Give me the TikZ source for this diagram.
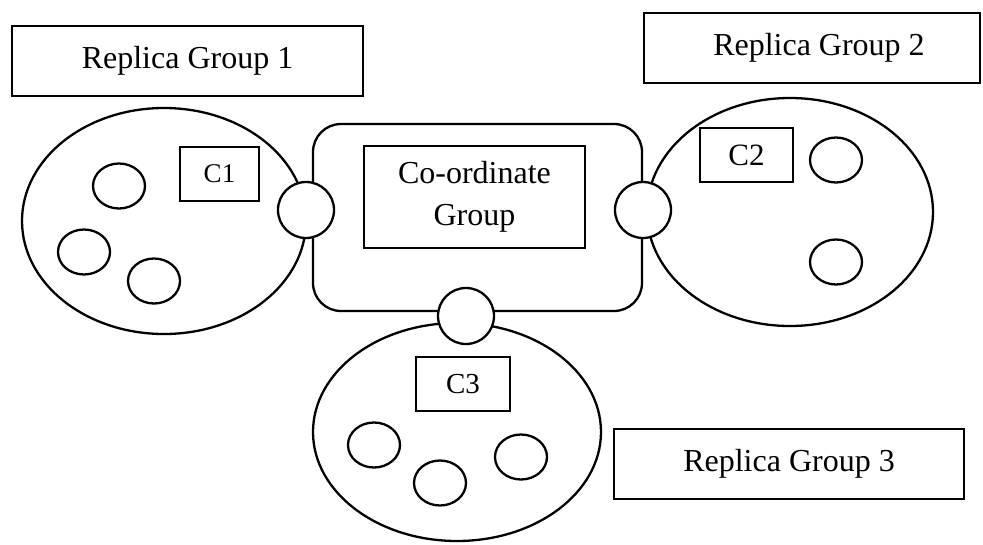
\documentclass[tikz,border=0pt]{standalone}
\usepackage{fontspec}
\setmainfont{Liberation Serif}
\usetikzlibrary{shapes.geometric}
\begin{document}
\begin{tikzpicture}[x=1pt,y=-1pt,
  line width=2.3pt,
  titlebox/.style={draw, rectangle, inner sep=0pt, font=\fontsize{32}{38}\selectfont},
  group/.style={draw, ellipse, inner sep=0pt},
  member/.style={draw, ellipse, inner sep=0pt, minimum width=52pt, minimum height=45pt},
  port/.style={draw, circle, fill=white, inner sep=0pt, minimum size=56pt},
  cbox/.style={draw, rectangle, inner sep=0pt, minimum height=54pt},
]
\useasboundingbox (0,0) rectangle (983,544);

% replica group titles
\node[titlebox, minimum width=351pt, minimum height=70pt] (rg1) at (187.5,61) {Replica Group 1};
\node[titlebox, minimum width=336pt, minimum height=70pt] (rg2) at (812,48) {\hspace*{14pt}Replica Group 2};
\node[titlebox, minimum width=350pt, minimum height=70pt] (rg3) at (789,464) {Replica Group 3};

% replica groups
\node[group, minimum width=284pt, minimum height=226pt] (g1) at (164,221) {};
\node[group, minimum width=286pt, minimum height=228pt] (g2) at (790,212) {};
\node[group, minimum width=288pt, minimum height=218pt] (g3) at (457,432) {};

% coordinating group
\node[draw, rectangle, rounded corners=28pt, minimum width=329pt, minimum height=187pt] (cg) at (477.5,217.5) {};
\node[titlebox, minimum width=221pt, minimum height=102pt, align=center] (cgl) at (474.5,197)
  {Co-ordinate\\[4pt]Group};

% coordinators
\node[cbox, minimum width=79pt, font=\fontsize{27}{32}\selectfont] (c1) at (219.5,174) {C1};
\node[cbox, minimum width=93pt, font=\fontsize{31}{36}\selectfont] (c2) at (746.5,155) {C2};
\node[cbox, minimum width=94pt, font=\fontsize{29}{34}\selectfont] (c3) at (463,384) {C3};

% members
\node[member] (m11) at (119,186) {};
\node[member] (m12) at (84,252) {};
\node[member] (m13) at (154,281) {};
\node[member] (m21) at (836,160) {};
\node[member] (m22) at (836,262) {};
\node[member] (m31) at (374,445) {};
\node[member] (m32) at (440,483) {};
\node[member] (m33) at (521,457) {};

% ports joining the groups
\node[port] (p1) at (306,210) {};
\node[port] (p2) at (643,210) {};
\node[port] (p3) at (466,316) {};
\end{tikzpicture}
\end{document}
